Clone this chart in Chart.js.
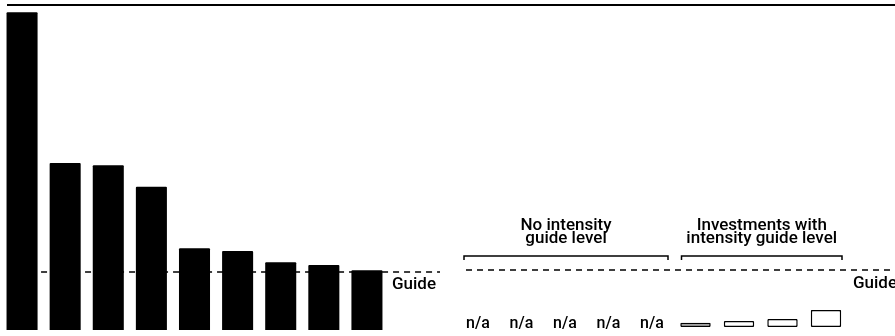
<!DOCTYPE html>
<html>
<head>
<meta charset="utf-8">
<script src="https://cdn.jsdelivr.net/npm/chart.js@4"></script>
<style>
    html, body { margin: 0; padding: 0; background: #fff; }
    #marco { position: relative; width: 895px; height: 336px; overflow: hidden; }
    #linea-superior { position: absolute; left: 7px; top: 4px; width: 888px; height: 2px; background: #000; }
</style>
</head>
<body>
<div id="marco">
    <div id="linea-superior"></div>
    <canvas id="graficoIzq" width="440" height="336" style="position:absolute;left:0;top:0"></canvas>
    <canvas id="graficoDer" width="455" height="336" style="position:absolute;left:440px;top:0"></canvas>
</div>
<script>
// Datos (en unidades del nivel guía: guía = 1)
const categoriasIzq = ['A1', 'A2', 'A3', 'A4', 'A5', 'A6', 'A7', 'A8', 'A9'];
const valoresIzq = [5.48, 2.88, 2.84, 2.47, 1.41, 1.36, 1.17, 1.12, 1.03];

const categoriasDer = ['B1', 'B2', 'B3', 'B4', 'B5', 'B6', 'B7', 'B8', 'B9'];
const valoresDer = [null, null, null, null, null, 0.075, 0.105, 0.14, 0.3];
const etiquetasDer = ['n/a', 'n/a', 'n/a', 'n/a', 'n/a', '', '', '', ''];
const rellenosDer = ['#fff', '#fff', '#fff', '#fff', '#fff', '#9a9a9a', '#fff', '#fff', '#fff'];

const nivelGuia = 1;
const textoGuia = 'Guide';
const ejeMax = 5.5;

const gruposDer = [
    { lineas: ['No intensity', 'guide level'], desde: 0, hasta: 4 },
    { lineas: ['Investments with', 'intensity guide level'], desde: 5, hasta: 8 }
];

const fuente = 'Roboto, "Noto Sans", sans-serif';

// Línea guía discontinua con su etiqueta
function pluginGuia(inicioX, textoX, textoY) {
    return {
        id: 'guia',
        beforeDatasetsDraw(chart) {
            const ctx = chart.ctx;
            const y = chart.scales.y.getPixelForValue(nivelGuia);
            ctx.save();
            ctx.strokeStyle = '#000';
            ctx.lineWidth = 1.5;
            ctx.setLineDash([6, 5]);
            ctx.beginPath();
            ctx.moveTo(inicioX(chart), y);
            ctx.lineTo(chart.width, y);
            ctx.stroke();
            ctx.restore();
        },
        afterDraw(chart) {
            const ctx = chart.ctx;
            ctx.save();
            ctx.fillStyle = '#000';
            ctx.font = '500 17px ' + fuente;
            ctx.textAlign = 'left';
            ctx.textBaseline = 'alphabetic';
            ctx.fillText(textoGuia, textoX, textoY);
            ctx.restore();
        }
    };
}

// Etiquetas n/a, corchetes y títulos de grupo
const pluginAnotaciones = {
    id: 'anotaciones',
    afterDraw(chart) {
        const ctx = chart.ctx;
        const x = chart.scales.x;
        ctx.save();
        ctx.fillStyle = '#000';
        ctx.strokeStyle = '#000';
        ctx.font = '500 16px ' + fuente;
        ctx.textAlign = 'center';
        ctx.textBaseline = 'alphabetic';
        etiquetasDer.forEach((et, i) => {
            if (et) ctx.fillText(et, x.getPixelForValue(i), 328);
        });

        ctx.font = '500 17px ' + fuente;
        ctx.lineWidth = 1.5;
        gruposDer.forEach(g => {
            const x0 = x.getPixelForValue(g.desde) - 14;
            const x1 = x.getPixelForValue(g.hasta) + 16;
            ctx.beginPath();
            ctx.moveTo(x0, 260);
            ctx.lineTo(x0, 256);
            ctx.lineTo(x1, 256);
            ctx.lineTo(x1, 260);
            ctx.stroke();
            const cx = (x0 + x1) / 2;
            ctx.fillText(g.lineas[0], cx, 230);
            ctx.fillText(g.lineas[1], cx, 243);
        });
        ctx.restore();
    }
};

function opcionesBase(padding) {
    return {
        responsive: false,
        devicePixelRatio: 1,
        animation: false,
        layout: { padding: padding },
        plugins: { legend: { display: false }, tooltip: { enabled: false } },
        scales: {
            x: { display: false, offset: true },
            y: { display: false, min: 0, max: ejeMax }
        }
    };
}

document.addEventListener('DOMContentLoaded', function() {
    new Chart(document.getElementById('graficoIzq'), {
        type: 'bar',
        data: {
            labels: categoriasIzq,
            datasets: [{
                data: valoresIzq,
                backgroundColor: '#000',
                borderWidth: 0,
                borderRadius: 1,
                categoryPercentage: 1,
                barPercentage: 0.72
            }]
        },
        options: opcionesBase({ left: 0.5, right: 51.5, top: 11, bottom: 6 }),
        plugins: [pluginGuia(chart => chart.scales.x.getPixelForValue(0) + 19, 392, 289)]
    });

    new Chart(document.getElementById('graficoDer'), {
        type: 'bar',
        data: {
            labels: categoriasDer,
            datasets: [{
                data: valoresDer,
                backgroundColor: rellenosDer,
                borderColor: '#000',
                borderWidth: 1.5,
                borderSkipped: false,
                borderRadius: 1,
                categoryPercentage: 1,
                barPercentage: 0.7
            }]
        },
        options: opcionesBase({ left: 16.25, right: 47.25, top: 13.5, bottom: 9 }),
        plugins: [pluginGuia(() => 26, 413, 288), pluginAnotaciones]
    });
});
</script>
</body>
</html>
